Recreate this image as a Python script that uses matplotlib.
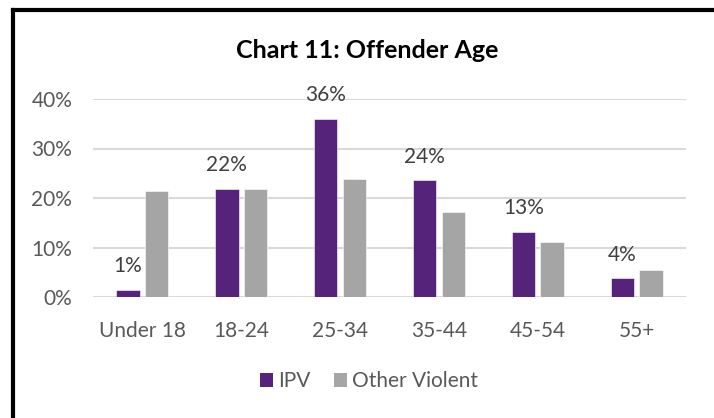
import matplotlib
matplotlib.use("Agg")
import matplotlib.pyplot as plt
from matplotlib.lines import Line2D
from matplotlib.patches import Patch
import numpy as np

categories = ["Under 18", "18-24", "25-34", "35-44", "45-54", "55+"]
ipv = [1.4, 21.8, 36.0, 23.6, 13.2, 3.8]
other_violent = [21.4, 21.9, 23.8, 17.1, 11.1, 5.4]
series_names = ["IPV", "Other Violent"]
yticks = [0, 10, 20, 30, 40]
title = "Chart 11: Offender Age"

purple = "#55237A"
gray = "#A5A5A5"
textc = "#595959"
font = "Lato"
fs = 15

fig = plt.figure(figsize=(7.14, 4.18), dpi=100)
W, H = 714, 418
ax = fig.add_axes([93 / W, 1 - 297 / H, (686 - 93) / W, (297 - 99) / H])

x = np.arange(len(categories))
bw = 0.235
off = 0.145
ax.bar(x - off, ipv, bw, color=purple, edgecolor="white", linewidth=0.4, zorder=3)
ax.bar(x + off, other_violent, bw, color=gray, edgecolor="white", linewidth=0.4, zorder=3)

for xi, v in zip(x, ipv):
    ax.annotate(f"{round(v):d}%", (xi - off, v), xytext=(0, 17), textcoords="offset points",
                ha="center", va="center", fontsize=fs, color="#404040", family=font)

ax.set_xlim(-0.5, len(categories) - 0.5)
ax.set_ylim(0, 40)
ax.set_yticks(yticks)
ax.set_yticklabels([f"{t}%" for t in yticks], fontsize=fs, color=textc, family=font)
ax.set_xticks(x)
ax.set_xticklabels(categories, fontsize=fs, color=textc, family=font)
ax.tick_params(axis="y", length=0, pad=15)
ax.tick_params(axis="x", length=0, pad=17)
for s in ax.spines.values():
    s.set_visible(False)
ax.grid(axis="y", color="#D9D9D9", linewidth=1.5, zorder=0)
ax.set_axisbelow(True)

fig.text(367 / W, 1 - 50 / H, title, ha="center", va="center", fontsize=18,
         fontweight="bold", color="black", family=font)

handles = [Patch(facecolor=purple, edgecolor="none"), Patch(facecolor=gray, edgecolor="none")]
leg = fig.legend(handles, series_names, loc="center", bbox_to_anchor=(369 / W, 1 - 381 / H),
                 ncol=2, frameon=False, prop={"family": font, "size": fs},
                 handlelength=0.65, handleheight=0.65, handletextpad=0.25, columnspacing=1.1)
for t in leg.get_texts():
    t.set_color(textc)

# outer frame (left and top edges visible)
fig.add_artist(Line2D([13 / W, 13 / W], [0, 1 - 10 / H], color="black", linewidth=3,
                      transform=fig.transFigure, solid_capstyle="projecting"))
fig.add_artist(Line2D([13 / W, 1], [1 - 10 / H, 1 - 10 / H], color="black", linewidth=3,
                      transform=fig.transFigure, solid_capstyle="projecting"))

fig.savefig("out.png", dpi=100, facecolor="white")
